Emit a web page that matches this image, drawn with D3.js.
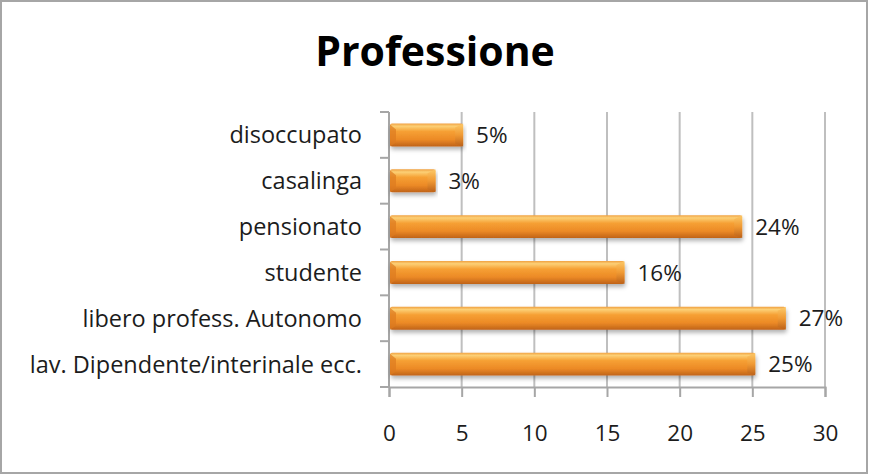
<!DOCTYPE html>
<html>
<head>
<meta charset="utf-8">
<script src="https://cdn.jsdelivr.net/npm/d3@7"></script>
<style>
  html, body { margin: 0; padding: 0; background: #fff; }
  svg { display: block; font-family: "Open Sans", "Noto Sans", sans-serif; }
</style>
</head>
<body>
<div id="chart"></div>
<script>
const categories = [
    'disoccupato',
    'casalinga',
    'pensionato',
    'studente',
    'libero profess. Autonomo',
    'lav. Dipendente/interinale ecc.'
];
const values = [5.1, 3.2, 24.3, 16.2, 27.3, 25.2];
const valueLabels = ['5%', '3%', '24%', '16%', '27%', '25%'];
const xTicks = [0, 5, 10, 15, 20, 25, 30];

const width = 869, height = 475;
const margin = { top: 112, right: 44, bottom: 88, left: 389 };
const fontSize = 22.5;

const svg = d3.select('#chart').append('svg')
    .attr('width', width)
    .attr('height', height);

const defs = svg.append('defs');

const grad = defs.append('linearGradient')
    .attr('id', 'barGrad')
    .attr('x1', 0).attr('y1', 0).attr('x2', 0).attr('y2', 1);
grad.append('stop').attr('offset', '0%').attr('stop-color', '#f0a040');
grad.append('stop').attr('offset', '12%').attr('stop-color', '#fcd076');
grad.append('stop').attr('offset', '35%').attr('stop-color', '#f6a034');
grad.append('stop').attr('offset', '70%').attr('stop-color', '#ec8a26');
grad.append('stop').attr('offset', '100%').attr('stop-color', '#c06318');

const capGrad = defs.append('linearGradient')
    .attr('id', 'capGrad')
    .attr('x1', 0).attr('y1', 0).attr('x2', 0).attr('y2', 1);
capGrad.append('stop').attr('offset', '0%').attr('stop-color', '#fcc866');
capGrad.append('stop').attr('offset', '50%').attr('stop-color', '#f09a34');
capGrad.append('stop').attr('offset', '100%').attr('stop-color', '#b95f18');

const shadow = defs.append('filter')
    .attr('id', 'shadow')
    .attr('x', '-5%').attr('y', '-30%').attr('width', '110%').attr('height', '180%');
shadow.append('feDropShadow')
    .attr('dx', 1).attr('dy', 3).attr('stdDeviation', 2)
    .attr('flood-color', '#000').attr('flood-opacity', 0.3);

// outer frame
svg.append('rect')
    .attr('x', 1).attr('y', 1)
    .attr('width', width - 3).attr('height', height - 3)
    .attr('fill', '#fff')
    .attr('stroke', '#a6a6a6')
    .attr('stroke-width', 2);

svg.append('text')
    .attr('x', 435).attr('y', 66)
    .attr('text-anchor', 'middle')
    .attr('font-size', 41)
    .attr('font-weight', 'bold')
    .attr('fill', '#000')
    .text('Professione');

const x = d3.scaleLinear()
    .domain([0, 30])
    .range([margin.left, width - margin.right]);

const y = d3.scaleBand()
    .domain(categories)
    .range([margin.top, height - margin.bottom])
    .paddingInner(0.5)
    .paddingOuter(0.25);

// vertical gridlines
svg.append('g')
    .selectAll('line')
    .data(xTicks.slice(1))
    .join('line')
    .attr('x1', d => x(d)).attr('x2', d => x(d))
    .attr('y1', margin.top).attr('y2', height - margin.bottom)
    .attr('stroke', '#bfbfbf')
    .attr('stroke-width', 2);

// x axis
const xAxis = svg.append('g')
    .attr('transform', `translate(0,${height - margin.bottom})`)
    .call(d3.axisBottom(x).tickValues(xTicks).tickSize(10).tickPadding(28));
xAxis.select('.domain').attr('stroke', '#a6a6a6').attr('stroke-width', 2);
xAxis.selectAll('.tick line').attr('stroke', '#a6a6a6').attr('stroke-width', 2);
xAxis.selectAll('.tick text')
    .attr('font-size', fontSize)
    .attr('fill', '#1c1c1c')
    .attr('font-family', '"Open Sans", sans-serif');

// y axis with ticks between categories
const yTickPos = d3.range(categories.length + 1)
    .map(i => margin.top + i * (height - margin.bottom - margin.top) / categories.length);
const yAxis = svg.append('g');
yAxis.append('line')
    .attr('x1', x(0)).attr('x2', x(0))
    .attr('y1', margin.top).attr('y2', height - margin.bottom)
    .attr('stroke', '#a6a6a6').attr('stroke-width', 2);
yAxis.selectAll('line.tk')
    .data(yTickPos)
    .join('line')
    .attr('class', 'tk')
    .attr('x1', x(0) - 9).attr('x2', x(0))
    .attr('y1', d => d).attr('y2', d => d)
    .attr('stroke', '#a6a6a6').attr('stroke-width', 2);

svg.append('g')
    .selectAll('text')
    .data(categories)
    .join('text')
    .attr('x', x(0) - 27)
    .attr('y', d => y(d) + y.bandwidth() / 2)
    .attr('dy', '0.36em')
    .attr('text-anchor', 'end')
    .attr('font-size', 23.5)
    .attr('fill', '#1c1c1c')
    .text(d => d);

// bars
const bars = svg.append('g')
    .selectAll('g')
    .data(categories)
    .join('g');

bars.append('rect')
    .attr('x', x(0) + 1)
    .attr('y', d => y(d))
    .attr('width', (d, i) => x(values[i]) - x(0) - 1)
    .attr('height', y.bandwidth())
    .attr('rx', 2)
    .attr('fill', 'url(#barGrad)')
    .attr('filter', 'url(#shadow)');

// bevelled end of the cylinder
bars.append('path')
    .attr('d', (d, i) => {
        const x1 = x(values[i]), y0 = y(d), h = y.bandwidth();
        return `M${x1 - 8},${y0 + 4} L${x1},${y0} L${x1},${y0 + h} L${x1 - 8},${y0 + h - 3} Z`;
    })
    .attr('fill', 'url(#capGrad)')
    .attr('opacity', 0.9);

// bevel on the left end
bars.append('path')
    .attr('d', d => {
        const x0 = x(0) + 1, y0 = y(d), h = y.bandwidth();
        return `M${x0},${y0 + 1} L${x0 + 6},${y0 + 6} L${x0 + 6},${y0 + h - 4} L${x0},${y0 + h} Z`;
    })
    .attr('fill', '#dd7a20')
    .attr('opacity', 0.7);

// data labels
svg.append('g')
    .selectAll('text')
    .data(categories)
    .join('text')
    .attr('x', (d, i) => x(values[i]) + 13)
    .attr('y', d => y(d) + y.bandwidth() / 2)
    .attr('dy', '0.36em')
    .attr('font-size', fontSize)
    .attr('fill', '#1c1c1c')
    .text((d, i) => valueLabels[i]);
</script>
</body>
</html>
